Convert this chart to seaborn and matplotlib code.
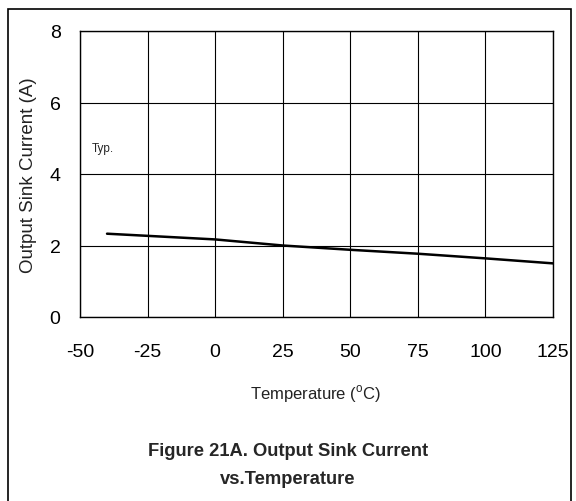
import matplotlib
matplotlib.use("Agg")
import matplotlib.pyplot as plt
import seaborn as sns
import pandas as pd
from matplotlib.patches import Rectangle

# datos
temp_c = [-40, -25, 0, 25, 50, 75, 100, 125]
sink_a = [2.33, 2.27, 2.17, 2.0, 1.88, 1.77, 1.64, 1.5]
x_ticks = [-50, -25, 0, 25, 50, 75, 100, 125]
x_labels = ["-50", "-25", "0", "25", "50", "75", "100", "125"]
y_ticks = [0, 2, 4, 6, 8]

df = pd.DataFrame({"temp": temp_c, "sink": sink_a})

sns.set_theme(style="white")
plt.rcParams["font.family"] = ["Liberation Sans", "DejaVu Sans"]
plt.rcParams["mathtext.fontset"] = "custom"
plt.rcParams["mathtext.rm"] = "Liberation Sans"

fig = plt.figure(figsize=(5.76, 5.02), dpi=100)
ax = fig.add_axes([80 / 576, 1 - 318 / 502, 473 / 576, 286 / 502])

sns.lineplot(data=df, x="temp", y="sink", color="black", linewidth=1.8, ax=ax)

ax.set_xlim(-50, 125)
ax.set_ylim(0, 8)
ax.set_xticks(x_ticks)
ax.set_xticklabels(x_labels)
ax.set_yticks(y_ticks)
ax.grid(True, color="black", linewidth=0.8)
for s in ax.spines.values():
    s.set_color("black")
    s.set_linewidth(1.0)
ax.tick_params(axis="x", length=0, pad=19, labelsize=14, colors="black")
ax.tick_params(axis="y", length=0, pad=14, labelsize=14, colors="black")

ax.set_xlabel("")
ax.set_ylabel("Output Sink Current (A)", fontsize=13.5, color="#222222", labelpad=9)
ax.text(-45.5, 4.72, "Typ.", fontsize=8.5, va="center", ha="left")

fig.text(316 / 576, 1 - 394 / 502, "Temperature ($^{\\rm o}$C)", ha="center", va="center",
         fontsize=12, color="#222222")
fig.text(288 / 576, 1 - 452 / 502, "Figure 21A. Output Sink Current", ha="center", va="center",
         fontsize=13.2, fontweight="bold")
fig.text(288 / 576, 1 - 480 / 502, "vs.Temperature", ha="center", va="center",
         fontsize=13.2, fontweight="bold")

# marco alrededor de toda la figura
fig.patches.append(Rectangle((8 / 576, -0.05), 563 / 576, 1.05 - 10 / 502, transform=fig.transFigure,
                             fill=False, edgecolor="black", linewidth=1.2))

fig.savefig("out.png", dpi=100)
